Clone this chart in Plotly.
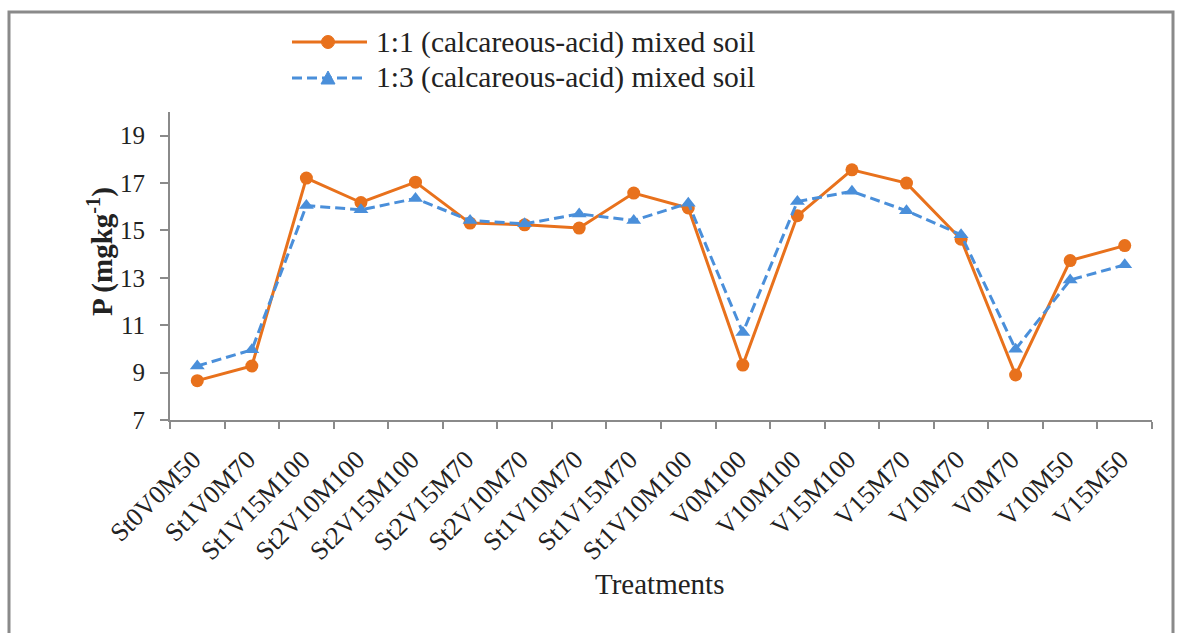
import plotly.graph_objects as go

categories = ["St0V0M50", "St1V0M70", "St1V15M100", "St2V10M100", "St2V15M100",
              "St2V15M70", "St2V10M70", "St1V10M70", "St1V15M70", "St1V10M100",
              "V0M100", "V10M100", "V15M100", "V15M70", "V10M70", "V0M70",
              "V10M50", "V15M50"]
mix_1_1 = [8.66, 9.28, 17.21, 16.18, 17.04, 15.31, 15.24, 15.10, 16.58, 15.95,
           9.32, 15.62, 17.56, 17.00, 14.63, 8.90, 13.73, 14.36]
mix_1_3 = [9.28, 9.96, 16.05, 15.87, 16.35, 15.42, 15.28, 15.70, 15.42, 16.15,
           10.69, 16.22, 16.65, 15.83, 14.82, 9.99, 12.91, 13.55]
y_ticks = [7, 9, 11, 13, 15, 17, 19]
series_names = ["1:1 (calcareous-acid) mixed soil", "1:3 (calcareous-acid) mixed soil"]

ORANGE = "#E8711C"
BLUE = "#4A8FDA"
AXIS = "#8A8A8A"
TEXT = "#222222"
FONT = "Liberation Serif"

fig = go.Figure()
fig.add_trace(go.Scatter(
    x=categories, y=mix_1_1, mode="lines+markers", name=series_names[0],
    line=dict(color=ORANGE, width=3),
    marker=dict(symbol="circle", size=13, color=ORANGE),
))
fig.add_trace(go.Scatter(
    x=categories, y=mix_1_3, mode="lines+markers", name=series_names[1],
    line=dict(color=BLUE, width=3, dash="10px,5px"),
    marker=dict(symbol="triangle-up", size=13, color=BLUE),
))

W, H = 1177, 633
L, R, T, B = 170, 25, 112, 213
pw, ph = W - L - R, H - T - B

def px_x(p):
    return (p - L) / pw

def px_y(p):
    return (H - B - p) / ph

shapes = [dict(
    type="rect", xref="paper", yref="paper",
    x0=px_x(9), x1=px_x(1173), y0=px_y(660), y1=px_y(12),
    line=dict(color=AXIS, width=3), fillcolor="rgba(0,0,0,0)", layer="below",
)]
annotations = []
leg_rows = [(42, ORANGE, "solid", "circle"), (78, BLUE, "10px,5px", "triangle")]
for (ly, col, dash, sym), name in zip(leg_rows, series_names):
    shapes.append(dict(type="line", xref="paper", yref="paper",
                       x0=px_x(292), x1=px_x(367), y0=px_y(ly), y1=px_y(ly),
                       line=dict(color=col, width=3, dash=dash)))
    cx, r = 328, 6.5
    if sym == "circle":
        shapes.append(dict(type="circle", xref="paper", yref="paper",
                           x0=px_x(cx - r), x1=px_x(cx + r), y0=px_y(ly + r), y1=px_y(ly - r),
                           fillcolor=col, line=dict(color=col, width=1)))
    else:
        path = "M{},{} L{},{} L{},{} Z".format(
            px_x(cx - 7), px_y(ly + 6), px_x(cx + 7), px_y(ly + 6), px_x(cx), px_y(ly - 7))
        shapes.append(dict(type="path", xref="paper", yref="paper", path=path,
                           fillcolor=col, line=dict(color=col, width=1)))
    annotations.append(dict(text=name, xref="paper", yref="paper",
                            x=px_x(374), y=px_y(ly), xanchor="left", yanchor="middle",
                            showarrow=False, font=dict(size=29.5, family=FONT, color=TEXT)))

annotations.append(dict(text="<b>P (mgkg<sup>-1</sup>)</b>", xref="paper", yref="paper",
                        x=px_x(100), y=px_y(252), xanchor="center", yanchor="middle",
                        textangle=-90, showarrow=False,
                        font=dict(size=29, family=FONT, color=TEXT)))
annotations.append(dict(text="Treatments", xref="paper", yref="paper",
                        x=px_x(659), y=px_y(584), xanchor="center", yanchor="middle",
                        showarrow=False, font=dict(size=29, family=FONT, color=TEXT)))

fig.update_layout(
    width=W, height=H,
    margin=dict(l=L, r=R, t=T, b=B, autoexpand=False),
    paper_bgcolor="white", plot_bgcolor="white",
    font=dict(family=FONT, color=TEXT, size=24),
    showlegend=False,
    shapes=shapes,
    annotations=annotations,
)
fig.update_xaxes(
    type="category", range=[-0.5, len(categories) - 0.5],
    showline=True, linecolor=AXIS, linewidth=2,
    ticks="outside", tickson="boundaries", ticklen=7, tickwidth=2, tickcolor=AXIS,
    tickangle=-45, tickfont=dict(size=26, family=FONT, color=TEXT),
    ticklabelstandoff=12, ticklabelshift=-4,
    showgrid=False, zeroline=False,
)
fig.update_yaxes(
    range=[7, 20], tickvals=y_ticks, ticktext=[str(v) for v in y_ticks],
    showline=True, linecolor=AXIS, linewidth=2,
    ticks="outside", ticklen=8, tickwidth=2, tickcolor=AXIS,
    tickfont=dict(size=25, family=FONT, color=TEXT),
    ticklabelstandoff=10,
    showgrid=False, zeroline=False,
)

fig.write_html(
    "out.html",
    config={"displayModeBar": False},
    post_script="document.body.style.margin='0';document.body.style.overflow='hidden';",
)
